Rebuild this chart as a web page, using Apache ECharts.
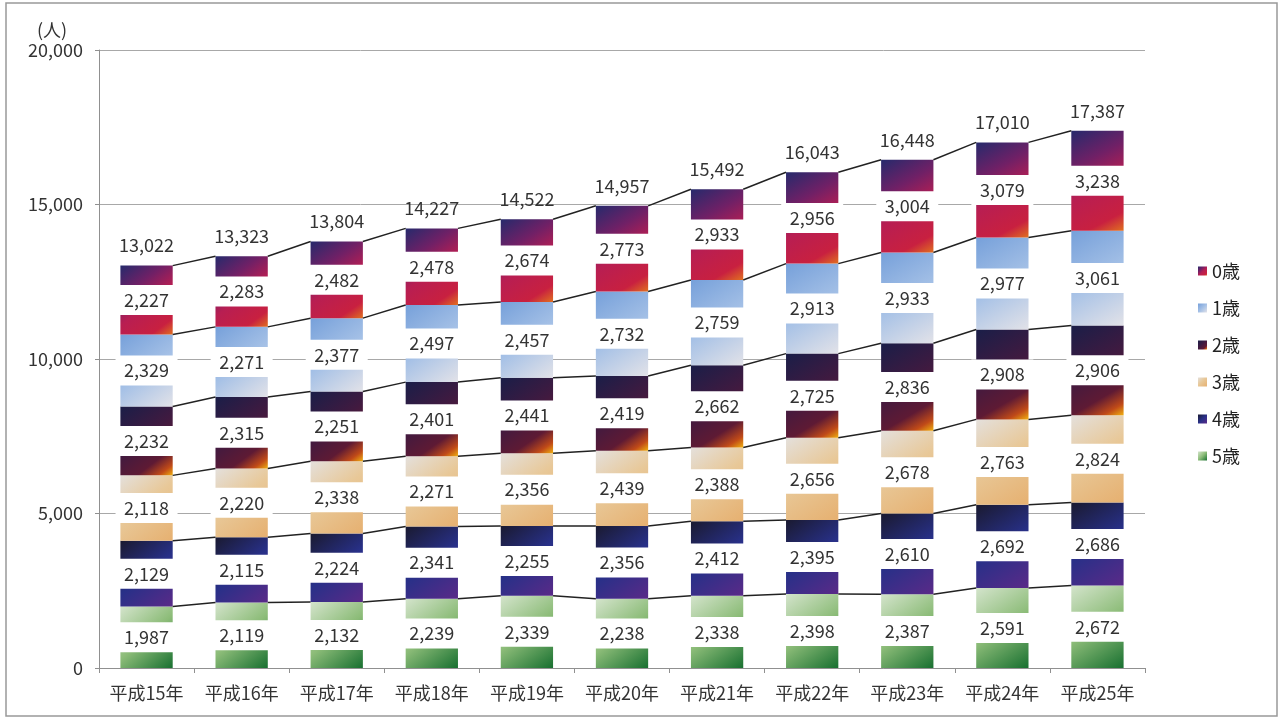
<!DOCTYPE html>
<html>
<head>
<meta charset="utf-8">
<script src="https://cdn.jsdelivr.net/npm/echarts@6/dist/echarts.min.js"></script>
<style>
html,body{margin:0;padding:0;background:#fff;}
#main{width:1281px;height:720px;}
</style>
</head>
<body>
<div id="main"></div>
<script>
const years = ['平成15年','平成16年','平成17年','平成18年','平成19年','平成20年','平成21年','平成22年','平成23年','平成24年','平成25年'];
const age5 = [1987, 2119, 2132, 2239, 2339, 2238, 2338, 2398, 2387, 2591, 2672];
const age4 = [2129, 2115, 2224, 2341, 2255, 2356, 2412, 2395, 2610, 2692, 2686];
const age3 = [2118, 2220, 2338, 2271, 2356, 2439, 2388, 2656, 2678, 2763, 2824];
const age2 = [2232, 2315, 2251, 2401, 2441, 2419, 2662, 2725, 2836, 2908, 2906];
const age1 = [2329, 2271, 2377, 2497, 2457, 2732, 2759, 2913, 2933, 2977, 3061];
const age0 = [2227, 2283, 2482, 2478, 2674, 2773, 2933, 2956, 3004, 3079, 3238];
const totals = [13022, 13323, 13804, 14227, 14522, 14957, 15492, 16043, 16448, 17010, 17387];
const seriesNames = ['0歳','1歳','2歳','3歳','4歳','5歳'];

const FONT = '"Noto Sans CJK JP", "Noto Sans", sans-serif';
const BAR_FRAC = 0.55;

function fmt(v){ return String(v).replace(/\B(?=(\d{3})+(?!\d))/g, ','); }
function grad(stops){
  return new echarts.graphic.LinearGradient(0,0,1,1, stops.map((c)=>({offset:c[0], color:c[1]})));
}
const colors = {
  '0歳': grad([[0,'#262a6c'],[0.3,'#702066'],[0.55,'#b81e52'],[0.85,'#c82040'],[1,'#e07020']]),
  '1歳': grad([[0,'#76a0da'],[0.5,'#a4c0e6'],[1,'#e2e2e8']]),
  '2歳': grad([[0,'#1a1e48'],[0.45,'#401a40'],[0.75,'#5e1a34'],[0.9,'#c04a18'],[1,'#f0b010']]),
  '3歳': grad([[0,'#e4e0dc'],[0.45,'#e8c898'],[1,'#e6b070']]),
  '4歳': grad([[0,'#1a1a30'],[0.5,'#283088'],[1,'#5a2a88']]),
  '5歳': grad([[0,'#d4e4cc'],[0.5,'#8cbc78'],[1,'#187030']])
};

// stacking order bottom -> top
const stackOrder = [['5歳',age5],['4歳',age4],['3歳',age3],['2歳',age2],['1歳',age1],['0歳',age0]];
const cum = [];
let run = years.map(()=>0);
stackOrder.forEach(([n,arr])=>{ run = run.map((v,i)=>v+arr[i]); cum.push(run.slice()); });

const labelStyle = {
  show:true, position:'inside', formatter:p=>fmt(p.value),
  backgroundColor:'#fff', width:62, height:30, lineHeight:30,
  align:'center', verticalAlign:'middle',
  color:'#333', fontSize:18, fontFamily:FONT
};

const series = stackOrder.map(([n,arr])=>({
  name:n, type:'bar', stack:'a', barWidth:(BAR_FRAC*100)+'%',
  data:arr, itemStyle:{color:colors[n]}, label:labelStyle,
  emphasis:{disabled:true}
}));
series.push({
  name:'合計', type:'bar', stack:'a', barWidth:(BAR_FRAC*100)+'%',
  data:totals.map(()=>0), itemStyle:{color:'transparent'},
  label:{show:true, position:'top', distance:11, formatter:p=>fmt(totals[p.dataIndex]), color:'#333', fontSize:18, fontFamily:FONT}
});
series.push({
  name:'lines', type:'custom', z:3,
  data:years.slice(0,-1).map((y,i)=>[i,0]),
  renderItem:function(params, api){
    const i = api.value(0);
    const band = api.size([1,0])[0];
    const hw = band*BAR_FRAC/2;
    const children = cum.map(c=>{
      const p1 = api.coord([i, c[i]]);
      const p2 = api.coord([i+1, c[i+1]]);
      return {type:'line', shape:{x1:p1[0]+hw, y1:p1[1], x2:p2[0]-hw, y2:p2[1]}, style:{stroke:'#222', lineWidth:1.5}};
    });
    return {type:'group', children};
  }
});

const chart = echarts.init(document.getElementById('main'), null, {renderer:'canvas'});
chart.setOption({
  animation:false,
  backgroundColor:'#fff',
  grid:{left:99, right:136, top:50, bottom:52, containLabel:false},
  xAxis:{
    type:'category', data:years,
    axisLine:{lineStyle:{color:'#909090', width:1}},
    axisTick:{show:true, length:5, lineStyle:{color:'#909090'}},
    axisLabel:{interval:0, color:'#333', fontSize:18, fontFamily:FONT, margin:16}
  },
  yAxis:{
    type:'value', min:0, max:20000, interval:5000,
    axisLine:{show:true, lineStyle:{color:'#909090'}},
    axisTick:{show:true, length:4, lineStyle:{color:'#909090'}},
    splitLine:{lineStyle:{color:'#a8a8a8', width:1}},
    axisLabel:{color:'#333', fontSize:18, fontFamily:FONT, margin:16, formatter:v=>fmt(v)}
  },
  legend:{
    orient:'vertical', left:1193, top:257,
    data:seriesNames, icon:'rect', itemWidth:9, itemHeight:9, itemGap:19,
    textStyle:{color:'#222', fontSize:18, fontFamily:FONT}
  },
  graphic:[
    {type:'rect', shape:{x:6, y:3, width:1271, height:713}, style:{fill:'none', stroke:'#999', lineWidth:1.5}, silent:true},
    {type:'text', x:52, y:30, style:{text:'(人)', fill:'#333', fontSize:18, fontFamily:FONT, textAlign:'center', textVerticalAlign:'middle'}}
  ],
  series
});
</script>
</body>
</html>
